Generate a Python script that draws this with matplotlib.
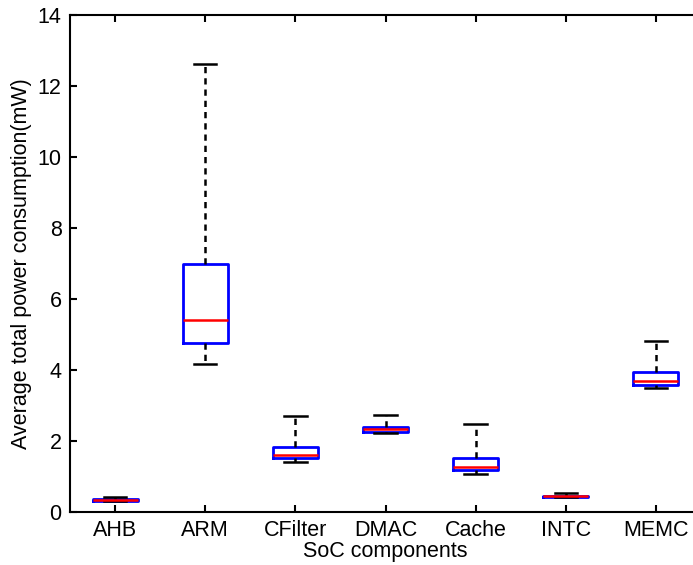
import matplotlib
matplotlib.use('Agg')
import matplotlib.pyplot as plt

plt.rcParams['font.family'] = ['Liberation Sans', 'DejaVu Sans']

components = ['AHB', 'ARM', 'CFilter', 'DMAC', 'Cache', 'INTC', 'MEMC']
whislo = [0.30, 4.17, 1.42, 2.23, 1.07, 0.42, 3.48]
q1 = [0.31, 4.77, 1.51, 2.25, 1.17, 0.42, 3.58]
med = [0.33, 5.41, 1.61, 2.33, 1.26, 0.44, 3.70]
q3 = [0.36, 7.00, 1.84, 2.40, 1.53, 0.46, 3.93]
whishi = [0.41, 12.62, 2.70, 2.73, 2.48, 0.53, 4.83]

stats = []
for i in range(len(components)):
    stats.append({'label': components[i], 'whislo': whislo[i], 'q1': q1[i],
                  'med': med[i], 'q3': q3[i], 'whishi': whishi[i], 'fliers': []})

fig = plt.figure(figsize=(6.93, 5.65), dpi=100)
ax = fig.add_axes([70/693, 1-512/565, 631/693, 497/565])

ax.bxp(stats, positions=range(1, 8), widths=0.5, showfliers=False,
       boxprops=dict(color='#0000ff', linewidth=2.0),
       medianprops=dict(color='#ff0000', linewidth=1.8),
       whiskerprops=dict(color='black', linewidth=1.8, linestyle=(0, (2.5, 2))),
       capprops=dict(color='black', linewidth=1.8), capwidths=0.25)

ax.set_xlim(0.5, 7.5)
ax.set_ylim(0, 14)
ax.set_yticks(range(0, 15, 2))
ax.set_xticks(range(1, 8))
ax.set_xticklabels(components)
ax.tick_params(direction='in', top=True, right=True, length=5, width=1.5,
               labelsize=15.5, pad=6)
for s in ax.spines.values():
    s.set_linewidth(1.5)
ax.set_xlabel('SoC components', fontsize=15.5, labelpad=0)
ax.set_ylabel('Average total power consumption(mW)', fontsize=15.5, labelpad=4)

fig.savefig('out.png', dpi=100)
